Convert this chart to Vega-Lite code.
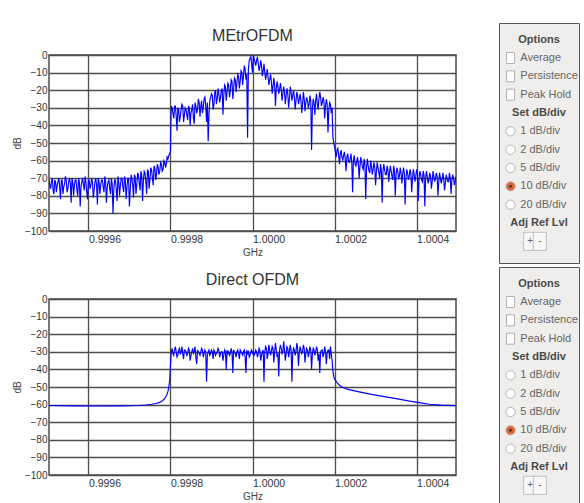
{
"$schema": "https://vega.github.io/schema/vega-lite/v6.json",
"background": "white",
"padding": {"left": 11, "top": 22, "right": 0, "bottom": 0},
"config": {
 "font": "Liberation Sans",
 "view": {"stroke": "#4d4d4d", "strokeWidth": 1.5},
 "axis": {"grid": true, "gridColor": "#4d4d4d", "gridWidth": 1.3, "gridOpacity": 1, "domain": false, "ticks": false, "labelFont": "Liberation Sans", "labelColor": "#333333", "titleFont": "Liberation Sans", "titleFontWeight": "normal", "titleColor": "#444444", "titleFontSize": 10},
 "title": {"font": "Liberation Sans", "fontSize": 16, "fontWeight": "normal", "color": "#333333", "offset": 6}
},
"datasets": {
 "a": [{"f":0.999504,"d":-71},{"f":0.999508,"d":-76},{"f":0.999512,"d":-70},{"f":0.999516,"d":-79},{"f":0.99952,"d":-72},{"f":0.999524,"d":-74},{"f":0.999528,"d":-70},{"f":0.999532,"d":-82},{"f":0.999536,"d":-71},{"f":0.99954,"d":-75},{"f":0.999544,"d":-69},{"f":0.999548,"d":-78},{"f":0.999552,"d":-72},{"f":0.999556,"d":-73},{"f":0.99956,"d":-70},{"f":0.999564,"d":-80},{"f":0.999568,"d":-71},{"f":0.999572,"d":-77},{"f":0.999576,"d":-70},{"f":0.99958,"d":-86},{"f":0.999584,"d":-72},{"f":0.999588,"d":-74},{"f":0.999592,"d":-69},{"f":0.999596,"d":-78},{"f":0.9996,"d":-71},{"f":0.999604,"d":-76},{"f":0.999608,"d":-70},{"f":0.999612,"d":-81},{"f":0.999616,"d":-72},{"f":0.99962,"d":-74},{"f":0.999624,"d":-70},{"f":0.999628,"d":-79},{"f":0.999632,"d":-71},{"f":0.999636,"d":-75},{"f":0.99964,"d":-69},{"f":0.999644,"d":-84},{"f":0.999648,"d":-72},{"f":0.999652,"d":-76},{"f":0.999656,"d":-70},{"f":0.99966,"d":-90},{"f":0.999664,"d":-71},{"f":0.999668,"d":-77},{"f":0.999672,"d":-69},{"f":0.999676,"d":-80},{"f":0.99968,"d":-70},{"f":0.999684,"d":-75},{"f":0.999688,"d":-69},{"f":0.999692,"d":-82},{"f":0.999696,"d":-70},{"f":0.9997,"d":-86},{"f":0.999704,"d":-68},{"f":0.999708,"d":-74},{"f":0.999712,"d":-68},{"f":0.999716,"d":-79},{"f":0.99972,"d":-67},{"f":0.999724,"d":-73},{"f":0.999728,"d":-66},{"f":0.999732,"d":-83},{"f":0.999736,"d":-66},{"f":0.99974,"d":-72},{"f":0.999744,"d":-65},{"f":0.999748,"d":-76},{"f":0.999752,"d":-64},{"f":0.999756,"d":-70},{"f":0.99976,"d":-63},{"f":0.999764,"d":-71},{"f":0.999768,"d":-62},{"f":0.999772,"d":-68},{"f":0.999776,"d":-61},{"f":0.99978,"d":-66},{"f":0.999784,"d":-60},{"f":0.999788,"d":-64},{"f":0.999792,"d":-58},{"f":0.999796,"d":-57},{"f":0.9998,"d":-55},{"f":0.999801,"d":-40},{"f":0.999802,"d":-29},
 {"f":0.999804,"d":-30},{"f":0.999808,"d":-36},{"f":0.999812,"d":-29},{"f":0.999816,"d":-43},{"f":0.99982,"d":-31},{"f":0.999824,"d":-35},{"f":0.999828,"d":-28},{"f":0.999832,"d":-38},{"f":0.999836,"d":-30},{"f":0.99984,"d":-34},{"f":0.999844,"d":-29},{"f":0.999848,"d":-40},{"f":0.999852,"d":-31},{"f":0.999856,"d":-36},{"f":0.99986,"d":-27},{"f":0.999864,"d":-33},{"f":0.999868,"d":-25},{"f":0.999872,"d":-35},{"f":0.999876,"d":-26},{"f":0.99988,"d":-30},{"f":0.999884,"d":-24},{"f":0.999888,"d":-38},{"f":0.999892,"d":-49},{"f":0.999896,"d":-26},{"f":0.9999,"d":-22},{"f":0.999904,"d":-31},{"f":0.999908,"d":-21},{"f":0.999912,"d":-28},{"f":0.999916,"d":-19},{"f":0.99992,"d":-27},{"f":0.999924,"d":-20},{"f":0.999928,"d":-34},{"f":0.999932,"d":-17},{"f":0.999936,"d":-26},{"f":0.99994,"d":-16},{"f":0.999944,"d":-24},{"f":0.999948,"d":-14},{"f":0.999952,"d":-25},{"f":0.999956,"d":-13},{"f":0.99996,"d":-21},{"f":0.999964,"d":-11},{"f":0.999968,"d":-19},{"f":0.999972,"d":-9},{"f":0.999976,"d":-17},{"f":0.99998,"d":-6},{"f":0.999984,"d":-14},{"f":0.999988,"d":-47},{"f":0.99999,"d":-8},{"f":0.999992,"d":-3},{"f":0.999996,"d":-1},{"f":1.0,"d":-10},{"f":1.000002,"d":0},{"f":1.000004,"d":-2},{"f":1.000008,"d":-6},{"f":1.000012,"d":-1},{"f":1.000016,"d":-9},{"f":1.00002,"d":-3},{"f":1.000024,"d":-12},{"f":1.000028,"d":-5},{"f":1.000032,"d":-14},{"f":1.000036,"d":-8},{"f":1.00004,"d":-17},{"f":1.000044,"d":-11},{"f":1.000048,"d":-22},{"f":1.000052,"d":-13},{"f":1.000056,"d":-29},{"f":1.00006,"d":-15},{"f":1.000064,"d":-22},{"f":1.000068,"d":-16},{"f":1.000072,"d":-26},{"f":1.000076,"d":-18},{"f":1.00008,"d":-28},{"f":1.000084,"d":-19},{"f":1.000088,"d":-30},{"f":1.000092,"d":-18},{"f":1.000096,"d":-26},{"f":1.0001,"d":-20},{"f":1.000104,"d":-31},{"f":1.000108,"d":-21},{"f":1.000112,"d":-28},{"f":1.000116,"d":-22},{"f":1.00012,"d":-33},{"f":1.000124,"d":-21},{"f":1.000128,"d":-32},{"f":1.000132,"d":-24},{"f":1.000136,"d":-30},{"f":1.00014,"d":-23},{"f":1.000144,"d":-54},{"f":1.000148,"d":-25},{"f":1.000152,"d":-34},{"f":1.000156,"d":-22},{"f":1.00016,"d":-31},{"f":1.000164,"d":-21},{"f":1.000168,"d":-29},{"f":1.000172,"d":-24},{"f":1.000176,"d":-36},{"f":1.00018,"d":-25},{"f":1.000184,"d":-44},{"f":1.000188,"d":-27},{"f":1.000192,"d":-33},{"f":1.000194,"d":-30},{"f":1.000196,"d":-47},
 {"f":1.0002,"d":-52},{"f":1.000204,"d":-58},{"f":1.000208,"d":-53},{"f":1.000212,"d":-62},{"f":1.000216,"d":-54},{"f":1.00022,"d":-60},{"f":1.000224,"d":-55},{"f":1.000228,"d":-66},{"f":1.000232,"d":-56},{"f":1.000236,"d":-61},{"f":1.00024,"d":-56},{"f":1.000244,"d":-78},{"f":1.000248,"d":-57},{"f":1.000252,"d":-63},{"f":1.000256,"d":-58},{"f":1.00026,"d":-70},{"f":1.000264,"d":-58},{"f":1.000268,"d":-64},{"f":1.000272,"d":-59},{"f":1.000276,"d":-82},{"f":1.00028,"d":-59},{"f":1.000284,"d":-66},{"f":1.000288,"d":-60},{"f":1.000292,"d":-68},{"f":1.000296,"d":-61},{"f":1.0003,"d":-74},{"f":1.000304,"d":-61},{"f":1.000308,"d":-67},{"f":1.000312,"d":-62},{"f":1.000316,"d":-84},{"f":1.00032,"d":-62},{"f":1.000324,"d":-68},{"f":1.000328,"d":-63},{"f":1.000332,"d":-72},{"f":1.000336,"d":-63},{"f":1.00034,"d":-69},{"f":1.000344,"d":-63},{"f":1.000348,"d":-80},{"f":1.000352,"d":-64},{"f":1.000356,"d":-70},{"f":1.00036,"d":-64},{"f":1.000364,"d":-73},{"f":1.000368,"d":-64},{"f":1.000372,"d":-85},{"f":1.000376,"d":-65},{"f":1.00038,"d":-71},{"f":1.000384,"d":-65},{"f":1.000388,"d":-78},{"f":1.000392,"d":-65},{"f":1.000396,"d":-72},{"f":1.0004,"d":-65},{"f":1.000404,"d":-83},{"f":1.000408,"d":-66},{"f":1.000412,"d":-71},{"f":1.000416,"d":-66},{"f":1.00042,"d":-86},{"f":1.000424,"d":-66},{"f":1.000428,"d":-73},{"f":1.000432,"d":-67},{"f":1.000436,"d":-76},{"f":1.00044,"d":-66},{"f":1.000444,"d":-72},{"f":1.000448,"d":-67},{"f":1.000452,"d":-80},{"f":1.000456,"d":-67},{"f":1.00046,"d":-73},{"f":1.000464,"d":-67},{"f":1.000468,"d":-77},{"f":1.000472,"d":-68},{"f":1.000476,"d":-72},{"f":1.00048,"d":-67},{"f":1.000484,"d":-79},{"f":1.000488,"d":-68},{"f":1.000492,"d":-74},{"f":1.000496,"d":-69},
 {"f":0.999506,"d":-74},{"f":0.99951,"d":-72},{"f":0.999514,"d":-77},{"f":0.999518,"d":-71},{"f":0.999522,"d":-78},{"f":0.999526,"d":-72},{"f":0.99953,"d":-75},{"f":0.999534,"d":-71},{"f":0.999538,"d":-79},{"f":0.999542,"d":-73},{"f":0.999546,"d":-71},{"f":0.99955,"d":-76},{"f":0.999554,"d":-70},{"f":0.999558,"d":-84},{"f":0.999562,"d":-72},{"f":0.999566,"d":-74},{"f":0.99957,"d":-71},{"f":0.999574,"d":-80},{"f":0.999578,"d":-72},{"f":0.999582,"d":-75},{"f":0.999586,"d":-70},{"f":0.99959,"d":-77},{"f":0.999594,"d":-72},{"f":0.999598,"d":-82},{"f":0.999602,"d":-71},{"f":0.999606,"d":-74},{"f":0.99961,"d":-72},{"f":0.999614,"d":-77},{"f":0.999618,"d":-70},{"f":0.999622,"d":-85},{"f":0.999626,"d":-72},{"f":0.99963,"d":-74},{"f":0.999634,"d":-71},{"f":0.999638,"d":-78},{"f":0.999642,"d":-72},{"f":0.999646,"d":-75},{"f":0.99965,"d":-71},{"f":0.999654,"d":-79},{"f":0.999658,"d":-73},{"f":0.999662,"d":-76},{"f":0.999666,"d":-71},{"f":0.99967,"d":-83},{"f":0.999674,"d":-72},{"f":0.999678,"d":-74},{"f":0.999682,"d":-70},{"f":0.999686,"d":-78},{"f":0.99969,"d":-71},{"f":0.999694,"d":-75},{"f":0.999698,"d":-70},{"f":0.999702,"d":-77},{"f":0.999706,"d":-70},{"f":0.99971,"d":-81},{"f":0.999714,"d":-69},{"f":0.999718,"d":-74},{"f":0.999722,"d":-68},{"f":0.999726,"d":-77},{"f":0.99973,"d":-68},{"f":0.999734,"d":-72},{"f":0.999738,"d":-67},{"f":0.999742,"d":-79},{"f":0.999746,"d":-66},{"f":0.99975,"d":-71},{"f":0.999754,"d":-65},{"f":0.999758,"d":-74},{"f":0.999762,"d":-64},{"f":0.999766,"d":-68},{"f":0.99977,"d":-64},{"f":0.999774,"d":-66},{"f":0.999778,"d":-62},{"f":0.999782,"d":-65},{"f":0.999786,"d":-61},{"f":0.99979,"d":-62},{"f":0.999794,"d":-59},{"f":0.999798,"d":-56},
 {"f":0.999806,"d":-33},{"f":0.99981,"d":-29},{"f":0.999814,"d":-35},{"f":0.999818,"d":-30},{"f":0.999822,"d":-38},{"f":0.999826,"d":-31},{"f":0.99983,"d":-29},{"f":0.999834,"d":-34},{"f":0.999838,"d":-31},{"f":0.999842,"d":-37},{"f":0.999846,"d":-30},{"f":0.99985,"d":-33},{"f":0.999854,"d":-28},{"f":0.999858,"d":-39},{"f":0.999862,"d":-29},{"f":0.999866,"d":-31},{"f":0.99987,"d":-27},{"f":0.999874,"d":-29},{"f":0.999878,"d":-33},{"f":0.999882,"d":-25},{"f":0.999886,"d":-29},{"f":0.99989,"d":-27},{"f":0.999894,"d":-33},{"f":0.999898,"d":-24},{"f":0.999902,"d":-23},{"f":0.999906,"d":-28},{"f":0.99991,"d":-20},{"f":0.999914,"d":-25},{"f":0.999918,"d":-22},{"f":0.999922,"d":-24},{"f":0.999926,"d":-19},{"f":0.99993,"d":-23},{"f":0.999934,"d":-18},{"f":0.999938,"d":-21},{"f":0.999942,"d":-17},{"f":0.999946,"d":-20},{"f":0.99995,"d":-15},{"f":0.999954,"d":-19},{"f":0.999958,"d":-14},{"f":0.999962,"d":-16},{"f":0.999966,"d":-12},{"f":0.99997,"d":-15},{"f":0.999974,"d":-10},{"f":0.999978,"d":-12},{"f":0.999982,"d":-8},{"f":0.999986,"d":-11},{"f":0.999994,"d":-2},{"f":1.000006,"d":-4},{"f":1.00001,"d":-3},{"f":1.000014,"d":-5},{"f":1.000018,"d":-7},{"f":1.000022,"d":-6},{"f":1.000026,"d":-9},{"f":1.00003,"d":-10},{"f":1.000034,"d":-11},{"f":1.000038,"d":-13},{"f":1.000042,"d":-14},{"f":1.000046,"d":-15},{"f":1.00005,"d":-18},{"f":1.000054,"d":-17},{"f":1.000058,"d":-19},{"f":1.000062,"d":-18},{"f":1.000066,"d":-20},{"f":1.00007,"d":-19},{"f":1.000074,"d":-22},{"f":1.000078,"d":-21},{"f":1.000082,"d":-23},{"f":1.000086,"d":-22},{"f":1.00009,"d":-25},{"f":1.000094,"d":-21},{"f":1.000098,"d":-23},{"f":1.000102,"d":-24},{"f":1.000106,"d":-26},{"f":1.00011,"d":-23},{"f":1.000114,"d":-25},{"f":1.000118,"d":-26},{"f":1.000122,"d":-28},{"f":1.000126,"d":-25},{"f":1.00013,"d":-27},{"f":1.000134,"d":-26},{"f":1.000138,"d":-28},{"f":1.000142,"d":-26},{"f":1.000146,"d":-30},{"f":1.00015,"d":-27},{"f":1.000154,"d":-26},{"f":1.000158,"d":-28},{"f":1.000162,"d":-25},{"f":1.000166,"d":-24},{"f":1.00017,"d":-27},{"f":1.000174,"d":-26},{"f":1.000178,"d":-29},{"f":1.000182,"d":-28},{"f":1.000186,"d":-31},{"f":1.00019,"d":-28},
 {"f":1.000202,"d":-55},{"f":1.000206,"d":-54},{"f":1.00021,"d":-57},{"f":1.000214,"d":-56},{"f":1.000218,"d":-58},{"f":1.000222,"d":-57},{"f":1.000226,"d":-59},{"f":1.00023,"d":-58},{"f":1.000234,"d":-60},{"f":1.000238,"d":-59},{"f":1.000242,"d":-61},{"f":1.000246,"d":-60},{"f":1.00025,"d":-62},{"f":1.000254,"d":-61},{"f":1.000258,"d":-62},{"f":1.000262,"d":-63},{"f":1.000266,"d":-61},{"f":1.00027,"d":-65},{"f":1.000274,"d":-62},{"f":1.000278,"d":-64},{"f":1.000282,"d":-63},{"f":1.000286,"d":-67},{"f":1.00029,"d":-63},{"f":1.000294,"d":-65},{"f":1.000298,"d":-64},{"f":1.000302,"d":-66},{"f":1.000306,"d":-64},{"f":1.00031,"d":-70},{"f":1.000314,"d":-65},{"f":1.000318,"d":-66},{"f":1.000322,"d":-65},{"f":1.000326,"d":-68},{"f":1.00033,"d":-65},{"f":1.000334,"d":-67},{"f":1.000338,"d":-66},{"f":1.000342,"d":-71},{"f":1.000346,"d":-66},{"f":1.00035,"d":-68},{"f":1.000354,"d":-66},{"f":1.000358,"d":-69},{"f":1.000362,"d":-67},{"f":1.000366,"d":-68},{"f":1.00037,"d":-67},{"f":1.000374,"d":-70},{"f":1.000378,"d":-67},{"f":1.000382,"d":-69},{"f":1.000386,"d":-67},{"f":1.00039,"d":-70},{"f":1.000394,"d":-68},{"f":1.000398,"d":-69},{"f":1.000402,"d":-67},{"f":1.000406,"d":-70},{"f":1.00041,"d":-68},{"f":1.000414,"d":-72},{"f":1.000418,"d":-68},{"f":1.000422,"d":-70},{"f":1.000426,"d":-69},{"f":1.00043,"d":-71},{"f":1.000434,"d":-69},{"f":1.000438,"d":-72},{"f":1.000442,"d":-69},{"f":1.000446,"d":-70},{"f":1.00045,"d":-69},{"f":1.000454,"d":-72},{"f":1.000458,"d":-70},{"f":1.000462,"d":-71},{"f":1.000466,"d":-70},{"f":1.00047,"d":-73},{"f":1.000474,"d":-70},{"f":1.000478,"d":-72},{"f":1.000482,"d":-70},{"f":1.000486,"d":-71},{"f":1.00049,"d":-70},{"f":1.000494,"d":-72}],
 "b": [{"f":0.999504,"d":-60.5},{"f":0.99956,"d":-60.7},{"f":0.99962,"d":-60.8},{"f":0.99968,"d":-60.7},{"f":0.99972,"d":-60.5},{"f":0.99974,"d":-60.2},{"f":0.999755,"d":-59.8},{"f":0.999765,"d":-59.4},{"f":0.999775,"d":-58.6},{"f":0.999782,"d":-57.5},{"f":0.999787,"d":-56.2},{"f":0.999791,"d":-54.5},{"f":0.999794,"d":-52.5},{"f":0.999796,"d":-50},{"f":0.999798,"d":-46.5},{"f":0.999799,"d":-43},{"f":0.9998,"d":-38},{"f":0.999801,"d":-34},{"f":0.999802,"d":-30},
 {"f":0.999804,"d":-28},{"f":0.999808,"d":-32},{"f":0.999812,"d":-27},{"f":0.999816,"d":-33},{"f":0.99982,"d":-29},{"f":0.999824,"d":-31},{"f":0.999828,"d":-27},{"f":0.999832,"d":-34},{"f":0.999836,"d":-29},{"f":0.99984,"d":-32},{"f":0.999844,"d":-28},{"f":0.999848,"d":-35},{"f":0.999852,"d":-30},{"f":0.999856,"d":-31},{"f":0.99986,"d":-27},{"f":0.999864,"d":-37},{"f":0.999868,"d":-30},{"f":0.999872,"d":-32},{"f":0.999876,"d":-28},{"f":0.99988,"d":-33},{"f":0.999884,"d":-29},{"f":0.999888,"d":-47},{"f":0.999892,"d":-30},{"f":0.999896,"d":-32},{"f":0.9999,"d":-29},{"f":0.999904,"d":-34},{"f":0.999908,"d":-30},{"f":0.999912,"d":-31},{"f":0.999916,"d":-28},{"f":0.99992,"d":-33},{"f":0.999924,"d":-30},{"f":0.999928,"d":-35},{"f":0.999932,"d":-29},{"f":0.999936,"d":-40},{"f":0.99994,"d":-31},{"f":0.999944,"d":-32},{"f":0.999948,"d":-28},{"f":0.999952,"d":-42},{"f":0.999956,"d":-30},{"f":0.99996,"d":-33},{"f":0.999964,"d":-29},{"f":0.999968,"d":-34},{"f":0.999972,"d":-30},{"f":0.999976,"d":-32},{"f":0.99998,"d":-29},{"f":0.999984,"d":-42},{"f":0.999988,"d":-31},{"f":0.999992,"d":-33},{"f":0.999996,"d":-30},{"f":1.0,"d":-31},{"f":1.000004,"d":-32},{"f":1.000008,"d":-29},{"f":1.000012,"d":-33},{"f":1.000016,"d":-28},{"f":1.00002,"d":-35},{"f":1.000024,"d":-30},{"f":1.000028,"d":-47},{"f":1.000032,"d":-27},{"f":1.000036,"d":-34},{"f":1.00004,"d":-26},{"f":1.000044,"d":-32},{"f":1.000048,"d":-27},{"f":1.000052,"d":-36},{"f":1.000056,"d":-25},{"f":1.00006,"d":-33},{"f":1.000064,"d":-44},{"f":1.000068,"d":-26},{"f":1.000072,"d":-31},{"f":1.000076,"d":-24},{"f":1.00008,"d":-35},{"f":1.000084,"d":-27},{"f":1.000088,"d":-33},{"f":1.000092,"d":-26},{"f":1.000096,"d":-47},{"f":1.0001,"d":-28},{"f":1.000104,"d":-32},{"f":1.000108,"d":-25},{"f":1.000112,"d":-38},{"f":1.000116,"d":-27},{"f":1.00012,"d":-31},{"f":1.000124,"d":-26},{"f":1.000128,"d":-36},{"f":1.000132,"d":-28},{"f":1.000136,"d":-33},{"f":1.00014,"d":-27},{"f":1.000144,"d":-40},{"f":1.000148,"d":-28},{"f":1.000152,"d":-32},{"f":1.000156,"d":-27},{"f":1.00016,"d":-35},{"f":1.000164,"d":-42},{"f":1.000168,"d":-29},{"f":1.000172,"d":-33},{"f":1.000176,"d":-27},{"f":1.00018,"d":-37},{"f":1.000184,"d":-29},{"f":1.000188,"d":-34},{"f":1.00019,"d":-27},{"f":1.000192,"d":-31},
 {"f":1.000194,"d":-35},{"f":1.000196,"d":-41},{"f":1.000198,"d":-44},{"f":1.0002,"d":-45.5},{"f":1.000206,"d":-47.5},{"f":1.000212,"d":-49},{"f":1.00022,"d":-50.3},{"f":1.000235,"d":-51.5},{"f":1.00026,"d":-52.8},{"f":1.00029,"d":-54.2},{"f":1.000318,"d":-55.3},{"f":1.00035,"d":-56.6},{"f":1.000383,"d":-58},{"f":1.00041,"d":-59},{"f":1.000431,"d":-59.8},{"f":1.00046,"d":-60.3},{"f":1.000496,"d":-60.6},
 {"f":0.999806,"d":-31},{"f":0.99981,"d":-29},{"f":0.999814,"d":-30},{"f":0.999818,"d":-32},{"f":0.999822,"d":-28},{"f":0.999826,"d":-30},{"f":0.99983,"d":-31},{"f":0.999834,"d":-29},{"f":0.999838,"d":-30},{"f":0.999842,"d":-31},{"f":0.999846,"d":-29},{"f":0.99985,"d":-32},{"f":0.999854,"d":-28},{"f":0.999858,"d":-30},{"f":0.999862,"d":-33},{"f":0.999866,"d":-29},{"f":0.99987,"d":-31},{"f":0.999874,"d":-30},{"f":0.999878,"d":-29},{"f":0.999882,"d":-31},{"f":0.999886,"d":-30},{"f":0.99989,"d":-32},{"f":0.999894,"d":-29},{"f":0.999898,"d":-31},{"f":0.999902,"d":-30},{"f":0.999906,"d":-29},{"f":0.99991,"d":-32},{"f":0.999914,"d":-30},{"f":0.999918,"d":-29},{"f":0.999922,"d":-31},{"f":0.999926,"d":-30},{"f":0.99993,"d":-32},{"f":0.999934,"d":-30},{"f":0.999938,"d":-29},{"f":0.999942,"d":-30},{"f":0.999946,"d":-31},{"f":0.99995,"d":-30},{"f":0.999954,"d":-29},{"f":0.999958,"d":-31},{"f":0.999962,"d":-30},{"f":0.999966,"d":-31},{"f":0.99997,"d":-29},{"f":0.999974,"d":-31},{"f":0.999978,"d":-30},{"f":0.999982,"d":-33},{"f":0.999986,"d":-29},{"f":0.99999,"d":-30},{"f":0.999994,"d":-32},{"f":0.999998,"d":-29},{"f":1.000002,"d":-30},{"f":1.000006,"d":-31},{"f":1.00001,"d":-30},{"f":1.000014,"d":-31},{"f":1.000018,"d":-29},{"f":1.000022,"d":-32},{"f":1.000026,"d":-29},{"f":1.00003,"d":-30},{"f":1.000034,"d":-28},{"f":1.000038,"d":-31},{"f":1.000042,"d":-29},{"f":1.000046,"d":-30},{"f":1.00005,"d":-28},{"f":1.000054,"d":-30},{"f":1.000058,"d":-29},{"f":1.000062,"d":-31},{"f":1.000066,"d":-29},{"f":1.00007,"d":-28},{"f":1.000074,"d":-30},{"f":1.000078,"d":-29},{"f":1.000082,"d":-31},{"f":1.000086,"d":-28},{"f":1.00009,"d":-30},{"f":1.000094,"d":-29},{"f":1.000098,"d":-31},{"f":1.000102,"d":-29},{"f":1.000106,"d":-30},{"f":1.00011,"d":-28},{"f":1.000114,"d":-31},{"f":1.000118,"d":-29},{"f":1.000122,"d":-30},{"f":1.000126,"d":-28},{"f":1.00013,"d":-31},{"f":1.000134,"d":-29},{"f":1.000138,"d":-30},{"f":1.000142,"d":-29},{"f":1.000146,"d":-31},{"f":1.00015,"d":-29},{"f":1.000154,"d":-30},{"f":1.000158,"d":-29},{"f":1.000162,"d":-31},{"f":1.000166,"d":-30},{"f":1.00017,"d":-29},{"f":1.000174,"d":-31},{"f":1.000178,"d":-30},{"f":1.000182,"d":-31},{"f":1.000186,"d":-29}],
 "p": [{"item":"Options","kind":"header"},{"item":"Average","kind":"check"},{"item":"Persistence","kind":"check"},{"item":"Peak Hold","kind":"check"},{"item":"Set dB/div","kind":"header"},{"item":"1 dB/div","kind":"radio","sel":false},{"item":"2 dB/div","kind":"radio","sel":false},{"item":"5 dB/div","kind":"radio","sel":false},{"item":"10 dB/div","kind":"radio","sel":true},{"item":"20 dB/div","kind":"radio","sel":false},{"item":"Adj Ref Lvl","kind":"header"},{"item":"btn","kind":"button","col":"plus","t":"+"},{"item":"btn","kind":"button","col":"minus","t":"-"}]
},
"spacing": 2,
"vconcat": [
 {"hconcat": [
  {"width": 407, "height": 176,
   "title": {"text": "MEtrOFDM"},
   "data": {"name": "a"},
   "mark": {"type": "line", "color": "#0000ff", "strokeWidth": 1.15, "clip": true},
   "encoding": {
    "x": {"field": "f", "type": "quantitative", "scale": {"domain": [0.999504, 1.000496], "nice": false, "zero": false}, "axis": {"values": [0.9996, 0.9998, 1.0, 1.0002, 1.0004], "format": ".4f", "title": "GHz", "labelAlign": "left", "labelPadding": 3, "labelFontSize": 10.5, "labelFlush": false, "titlePadding": 3}},
    "y": {"field": "d", "type": "quantitative", "scale": {"domain": [-100, 0], "nice": false, "zero": false}, "axis": {"values": [0, -10, -20, -30, -40, -50, -60, -70, -80, -90, -100], "title": "dB", "labelPadding": 2, "labelFontSize": 10, "titlePadding": 2}}
   }},
  {"width": 80, "height": 240,
   "view": {"fill": "#efeeec", "stroke": "#555555", "strokeWidth": 1},
   "data": {"name": "p"},
   "encoding": {"y": {"field": "item", "type": "nominal", "scale": {"domain": ["Options","Average","Persistence","Peak Hold","Set dB/div","1 dB/div","2 dB/div","5 dB/div","10 dB/div","20 dB/div","Adj Ref Lvl","btn"], "range": [7.5, 227.5]}, "axis": null}},
   "layer": [
    {"transform": [{"filter": "datum.kind == 'header'"}], "mark": {"type": "text", "fontWeight": "bold", "fontSize": 11, "color": "#4a4a4a"}, "encoding": {"text": {"field": "item"}}},
    {"transform": [{"filter": "datum.kind == 'check'"}], "mark": {"type": "point", "shape": "M-0.8,-1.1H0.8V1.1H-0.8Z", "size": 100, "filled": true, "fill": "white", "stroke": "#b0b0b0", "strokeWidth": 1, "opacity": 1}, "encoding": {"x": {"datum": "icon", "type": "nominal", "scale": {"domain": ["icon", "label", "plus", "minus"], "range": [6.7, 45.7]}, "axis": null}}},
    {"transform": [{"filter": "datum.kind == 'radio'"}], "mark": {"type": "circle", "size": 85, "stroke": "#b5b5b5", "strokeWidth": 1, "opacity": 1}, "encoding": {"x": {"datum": "icon", "type": "nominal"}, "fill": {"condition": {"test": "datum.sel", "value": "#e2622f"}, "value": "white"}}},
    {"transform": [{"filter": "datum.sel == true"}], "mark": {"type": "circle", "size": 7, "color": "#333333", "opacity": 1}, "encoding": {"x": {"datum": "icon", "type": "nominal"}}},
    {"transform": [{"filter": "datum.kind == 'check' || datum.kind == 'radio'"}], "mark": {"type": "text", "align": "left", "fontSize": 11, "color": "#666666"}, "encoding": {"x": {"datum": "label", "type": "nominal"}, "text": {"field": "item"}}},
    {"transform": [{"filter": "datum.kind == 'button'"}], "mark": {"type": "point", "shape": "M-0.93,-1.29H0.93V1.29H-0.93Z", "size": 196, "filled": true, "fill": "#f8f8f8", "stroke": "#c0c0c0", "strokeWidth": 1, "opacity": 1}, "encoding": {"x": {"field": "col", "type": "nominal"}}},
    {"transform": [{"filter": "datum.kind == 'button'"}], "mark": {"type": "text", "fontSize": 10, "color": "#666666"}, "encoding": {"x": {"field": "col", "type": "nominal"}, "text": {"field": "t"}}}
   ]}
 ], "bounds": "flush", "center": true, "spacing": 43},
 {"hconcat": [
  {"width": 407, "height": 176,
   "title": {"text": "Direct OFDM"},
   "data": {"name": "b"},
   "mark": {"type": "line", "color": "#0000ff", "strokeWidth": 1.15, "clip": true},
   "encoding": {
    "x": {"field": "f", "type": "quantitative", "scale": {"domain": [0.999504, 1.000496], "nice": false, "zero": false}, "axis": {"values": [0.9996, 0.9998, 1.0, 1.0002, 1.0004], "format": ".4f", "title": "GHz", "labelAlign": "left", "labelPadding": 3, "labelFontSize": 10.5, "labelFlush": false, "titlePadding": 3}},
    "y": {"field": "d", "type": "quantitative", "scale": {"domain": [-100, 0], "nice": false, "zero": false}, "axis": {"values": [0, -10, -20, -30, -40, -50, -60, -70, -80, -90, -100], "title": "dB", "labelPadding": 2, "labelFontSize": 10, "titlePadding": 2}}
   }},
  {"width": 80, "height": 240,
   "view": {"fill": "#efeeec", "stroke": "#555555", "strokeWidth": 1},
   "data": {"name": "p"},
   "encoding": {"y": {"field": "item", "type": "nominal", "scale": {"domain": ["Options","Average","Persistence","Peak Hold","Set dB/div","1 dB/div","2 dB/div","5 dB/div","10 dB/div","20 dB/div","Adj Ref Lvl","btn"], "range": [7.5, 227.5]}, "axis": null}},
   "layer": [
    {"transform": [{"filter": "datum.kind == 'header'"}], "mark": {"type": "text", "fontWeight": "bold", "fontSize": 11, "color": "#4a4a4a"}, "encoding": {"text": {"field": "item"}}},
    {"transform": [{"filter": "datum.kind == 'check'"}], "mark": {"type": "point", "shape": "M-0.8,-1.1H0.8V1.1H-0.8Z", "size": 100, "filled": true, "fill": "white", "stroke": "#b0b0b0", "strokeWidth": 1, "opacity": 1}, "encoding": {"x": {"datum": "icon", "type": "nominal", "scale": {"domain": ["icon", "label", "plus", "minus"], "range": [6.7, 45.7]}, "axis": null}}},
    {"transform": [{"filter": "datum.kind == 'radio'"}], "mark": {"type": "circle", "size": 85, "stroke": "#b5b5b5", "strokeWidth": 1, "opacity": 1}, "encoding": {"x": {"datum": "icon", "type": "nominal"}, "fill": {"condition": {"test": "datum.sel", "value": "#e2622f"}, "value": "white"}}},
    {"transform": [{"filter": "datum.sel == true"}], "mark": {"type": "circle", "size": 7, "color": "#333333", "opacity": 1}, "encoding": {"x": {"datum": "icon", "type": "nominal"}}},
    {"transform": [{"filter": "datum.kind == 'check' || datum.kind == 'radio'"}], "mark": {"type": "text", "align": "left", "fontSize": 11, "color": "#666666"}, "encoding": {"x": {"datum": "label", "type": "nominal"}, "text": {"field": "item"}}},
    {"transform": [{"filter": "datum.kind == 'button'"}], "mark": {"type": "point", "shape": "M-0.93,-1.29H0.93V1.29H-0.93Z", "size": 196, "filled": true, "fill": "#f8f8f8", "stroke": "#c0c0c0", "strokeWidth": 1, "opacity": 1}, "encoding": {"x": {"field": "col", "type": "nominal"}}},
    {"transform": [{"filter": "datum.kind == 'button'"}], "mark": {"type": "text", "fontSize": 10, "color": "#666666"}, "encoding": {"x": {"field": "col", "type": "nominal"}, "text": {"field": "t"}}}
   ]}
 ], "bounds": "flush", "center": true, "spacing": 43}
]
}
